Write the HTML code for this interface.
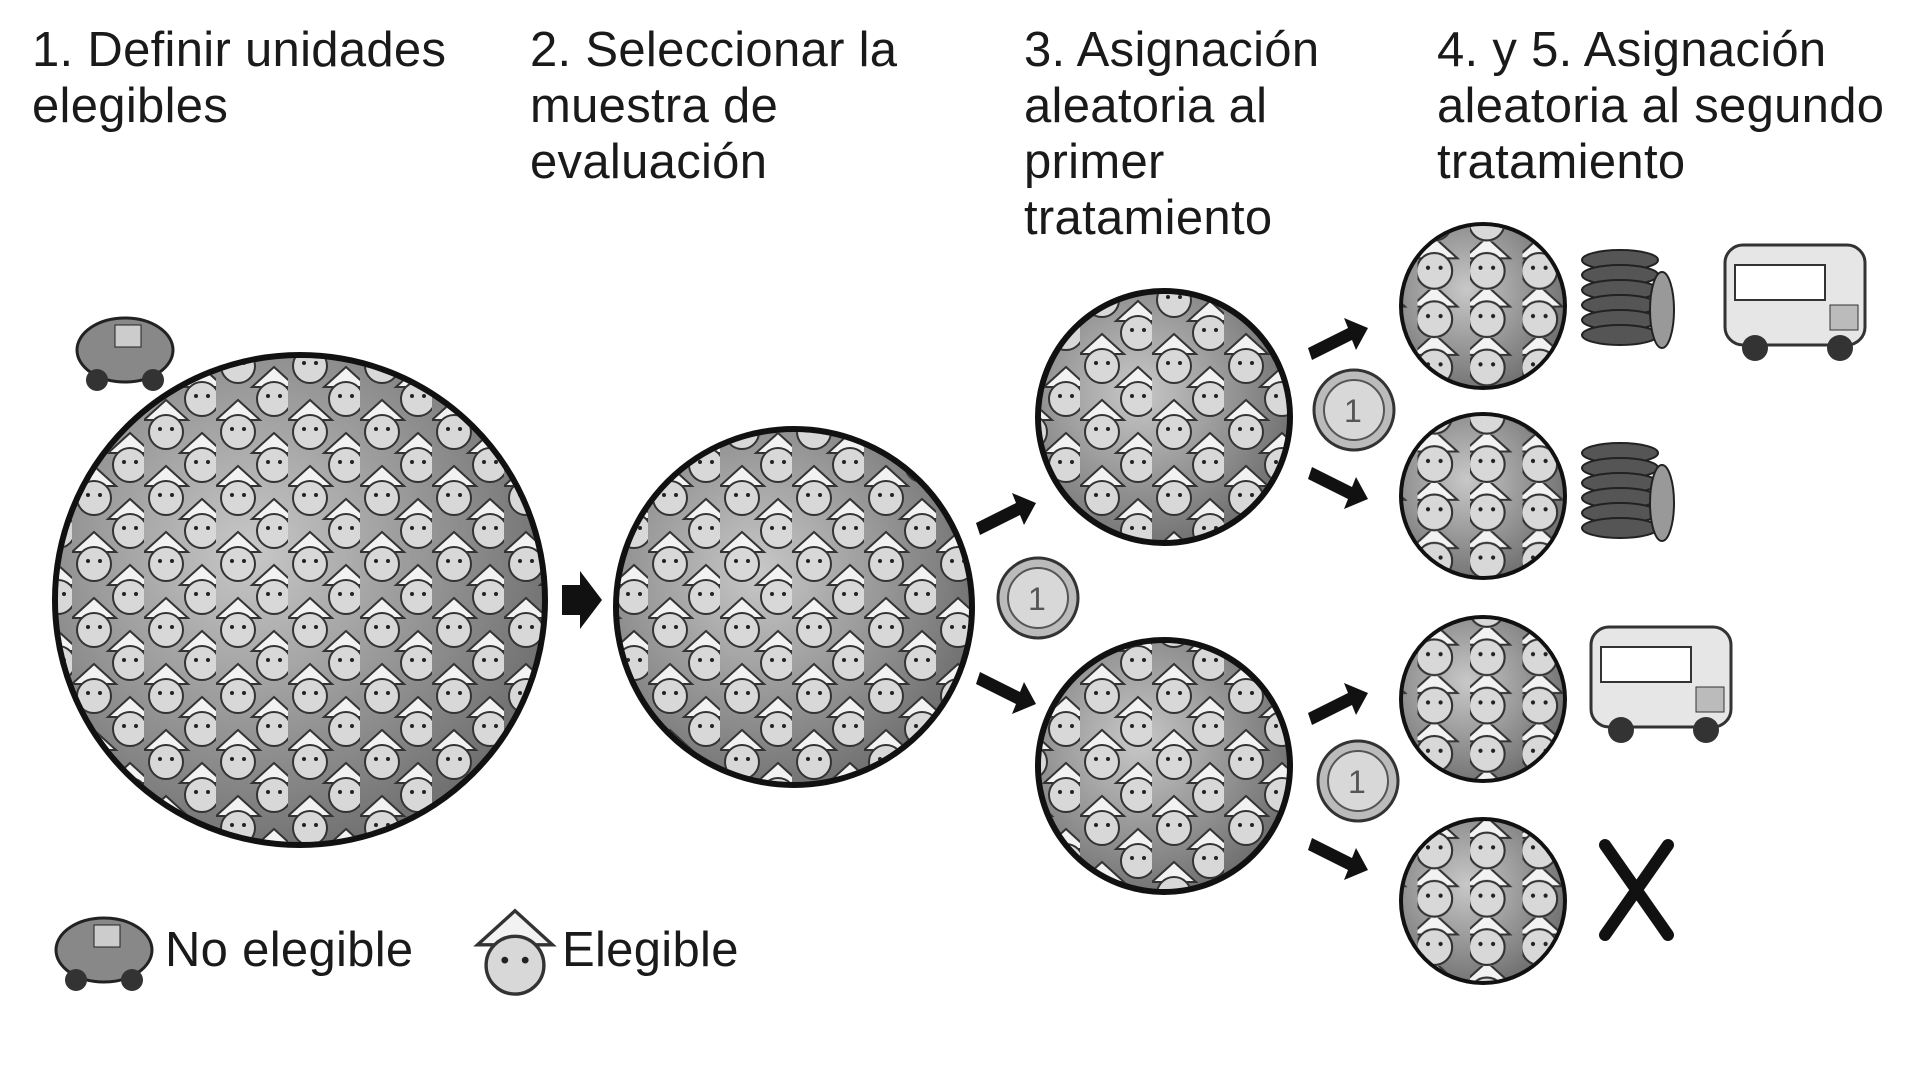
<!DOCTYPE html>
<html><head><meta charset="utf-8"><style>
html,body{margin:0;padding:0;background:#fff}
body{width:1912px;height:1072px;overflow:hidden;position:relative;font-family:"Liberation Sans",sans-serif}
.t{position:absolute;font-size:49px;line-height:56px;color:#1a1a1a;letter-spacing:0.3px}
</style></head><body>
<div class="t" style="left:32px;top:22px">1. Definir unidades<br>elegibles</div>
<div class="t" style="left:530px;top:22px">2. Seleccionar la<br>muestra de<br>evaluación</div>
<div class="t" style="left:1024px;top:22px">3. Asignación<br>aleatoria al<br>primer<br>tratamiento</div>
<div class="t" style="left:1437px;top:22px">4. y 5. Asignación<br>aleatoria al segundo<br>tratamiento</div>
<div class="t" style="left:165px;top:922px">No elegible</div>
<div class="t" style="left:562px;top:922px">Elegible</div>
<svg width="1912" height="1072" style="position:absolute;left:0;top:0">
<defs>
<radialGradient id="g" cx="40%" cy="40%" r="65%"><stop offset="0" stop-color="#c8c8c8"/><stop offset="1" stop-color="#6e6e6e"/></radialGradient>
<g id="face"><polygon points="-22,-6 0,-26 22,-6" fill="#f2f2f2" stroke="#333" stroke-width="2"/><circle cx="0" cy="6" r="17" fill="#d8d8d8" stroke="#333" stroke-width="2"/><circle cx="-6" cy="3" r="2" fill="#222"/><circle cx="6" cy="3" r="2" fill="#222"/></g>
<pattern id="p" width="72" height="66" patternUnits="userSpaceOnUse"><use href="#face" x="22" y="30"/><use href="#face" x="58" y="63"/><use href="#face" x="58" y="-3"/></pattern>
<pattern id="ps" width="50" height="46" patternUnits="userSpaceOnUse" patternTransform="scale(1.05)"><use href="#face" x="16" y="22"/></pattern>
<g id="coin"><circle r="40" fill="#bbb" stroke="#333" stroke-width="3"/><circle r="30" fill="#d8d8d8" stroke="#555" stroke-width="2"/><text x="-10" y="12" font-size="32" font-family="Liberation Sans" fill="#555">1</text></g>
<g id="stack"><g fill="#555" stroke="#222" stroke-width="2"><ellipse cx="0" cy="-40" rx="38" ry="10"/><ellipse cx="0" cy="-25" rx="38" ry="10"/><ellipse cx="0" cy="-10" rx="38" ry="10"/><ellipse cx="0" cy="5" rx="38" ry="10"/><ellipse cx="0" cy="20" rx="38" ry="10"/><ellipse cx="0" cy="35" rx="38" ry="10"/><ellipse cx="42" cy="10" rx="12" ry="38" fill="#999"/></g></g>
<g id="bus"><rect x="-70" y="-55" width="140" height="100" rx="18" fill="#e6e6e6" stroke="#333" stroke-width="3"/><rect x="-60" y="-35" width="90" height="35" fill="#fff" stroke="#333" stroke-width="2"/><circle cx="-40" cy="48" r="13" fill="#333"/><circle cx="45" cy="48" r="13" fill="#333"/><rect x="35" y="5" width="28" height="25" fill="#bbb" stroke="#333"/></g>
<g id="arr"><path d="M-30,8 L10,-12 L6,-22 L30,-12 L18,10 L14,0 L-26,20Z" fill="#111"/></g>
</defs>
<g stroke="#111" stroke-width="6">
<circle cx="300" cy="600" r="245" fill="url(#g)"/><circle cx="300" cy="600" r="242" fill="url(#p)" stroke="none"/>
<circle cx="794" cy="607" r="178" fill="url(#g)"/><circle cx="794" cy="607" r="175" fill="url(#p)" stroke="none"/>
<circle cx="1164" cy="417" r="126" fill="url(#g)"/><circle cx="1164" cy="417" r="123" fill="url(#p)" stroke="none"/>
<circle cx="1164" cy="766" r="126" fill="url(#g)"/><circle cx="1164" cy="766" r="123" fill="url(#p)" stroke="none"/>
<g stroke-width="4">
<circle cx="1483" cy="306" r="82" fill="url(#g)"/><circle cx="1483" cy="306" r="80" fill="url(#ps)" stroke="none"/>
<circle cx="1483" cy="496" r="82" fill="url(#g)"/><circle cx="1483" cy="496" r="80" fill="url(#ps)" stroke="none"/>
<circle cx="1483" cy="699" r="82" fill="url(#g)"/><circle cx="1483" cy="699" r="80" fill="url(#ps)" stroke="none"/>
<circle cx="1483" cy="901" r="82" fill="url(#g)"/><circle cx="1483" cy="901" r="80" fill="url(#ps)" stroke="none"/>
</g></g>
<path d="M562,585 h18 v-14 l22,29 -22,29 v-14 h-18z" fill="#111"/>
<use href="#arr" x="1006" y="515"/>
<g transform="translate(1006,692) scale(1,-1)"><use href="#arr"/></g>
<use href="#arr" x="1338" y="340"/>
<g transform="translate(1338,487) scale(1,-1)"><use href="#arr"/></g>
<use href="#arr" x="1338" y="705"/>
<g transform="translate(1338,858) scale(1,-1)"><use href="#arr"/></g>
<use href="#coin" x="1038" y="598"/><use href="#coin" x="1354" y="410"/><use href="#coin" x="1358" y="781"/>
<use href="#stack" x="1620" y="300"/><use href="#stack" x="1620" y="493"/>
<use href="#bus" x="1795" y="300"/><use href="#bus" x="1661" y="682"/>
<path d="M1605,845 L1668,935 M1668,845 L1605,935" stroke="#111" stroke-width="12" stroke-linecap="round"/>
<g transform="translate(125,350)"><ellipse cx="0" cy="0" rx="48" ry="32" fill="#888" stroke="#222" stroke-width="3"/><circle cx="-28" cy="30" r="11" fill="#333"/><circle cx="28" cy="30" r="11" fill="#333"/><rect x="-10" y="-25" width="26" height="22" fill="#ccc" stroke="#222"/></g>
<g transform="translate(104,950)"><ellipse cx="0" cy="0" rx="48" ry="32" fill="#888" stroke="#222" stroke-width="3"/><circle cx="-28" cy="30" r="11" fill="#333"/><circle cx="28" cy="30" r="11" fill="#333"/><rect x="-10" y="-25" width="26" height="22" fill="#ccc" stroke="#222"/></g>
<use href="#face" transform="translate(515,955) scale(1.7)"/>
</svg>
</body></html>
